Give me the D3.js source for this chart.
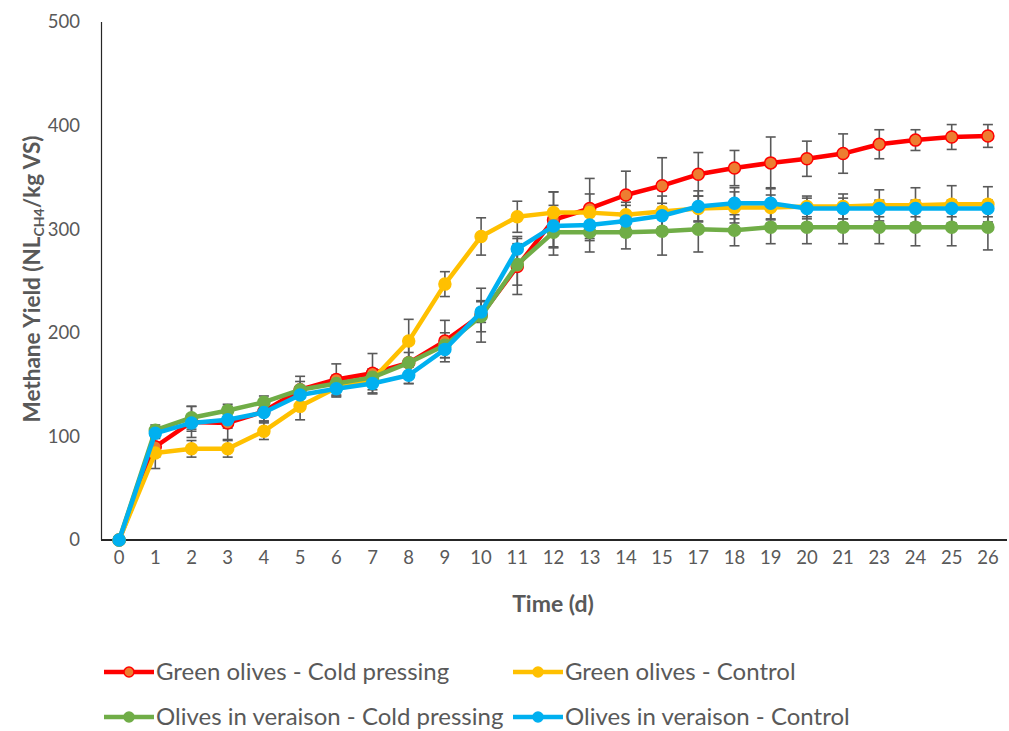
<!DOCTYPE html>
<html>
<head>
<meta charset="utf-8">
<script src="https://cdn.jsdelivr.net/npm/d3@7.9.0/dist/d3.min.js"></script>
<style>
  body { margin: 0; background: #fff; }
  text { font-family: Lato, "Liberation Sans", sans-serif; fill: #595959; }
</style>
</head>
<body>
<svg id="chart"></svg>
<script>
// sampling days (16 and 22 not measured)
const days = ["0","1","2","3","4","5","6","7","8","9","10","11","12","13","14","15","17","18","19","20","21","23","24","25","26"];

const greenCold = [0, 90, 114, 113, 124, 145, 155, 161, 171, 192, 217, 264, 309, 320, 333, 342, 353, 359, 364, 368, 373, 382, 386, 389, 390];
const greenColdErr = [0, 10, 15, 16, 10, 13, 15, 19, 20, 20, 26, 27, 27, 29, 23, 27, 21, 17, 25, 17, 19, 14, 10, 12, 11];

const greenCtrl = [0, 84, 88, 88, 105, 129, 147, 155, 192, 247, 293, 312, 316, 316, 314, 317, 320, 321, 321, 322, 322, 323, 323, 324, 324];
const greenCtrlErr = [0, 15, 8, 8, 8, 13, 8, 10, 21, 12, 18, 15, 20, 18, 12, 15, 12, 15, 12, 10, 12, 15, 17, 18, 17];

const verCold = [0, 106, 118, 125, 133, 145, 151, 157, 171, 188, 216, 266, 297, 297, 297, 298, 300, 299, 302, 302, 302, 302, 302, 302, 302];
const verColdErr = [0, 5, 11, 6, 6, 8, 8, 8, 10, 12, 15, 20, 22, 19, 16, 23, 22, 15, 16, 16, 16, 16, 18, 18, 22];

const verCtrl = [0, 103, 113, 116, 123, 140, 146, 151, 159, 184, 220, 281, 303, 304, 308, 313, 322, 325, 325, 320, 320, 320, 320, 320, 320];
const verCtrlErr = [0, 5, 8, 8, 8, 8, 8, 10, 8, 8, 10, 12, 20, 15, 15, 12, 15, 15, 15, 10, 10, 8, 8, 8, 8];

const yTicks = [0, 100, 200, 300, 400, 500];

const series = [
  { name: "Green olives - Cold pressing", values: greenCold, err: greenColdErr, line: "#FF0000", fill: "#ED7D31" },
  { name: "Green olives - Control", values: greenCtrl, err: greenCtrlErr, line: "#FFC000", fill: "#FFC000" },
  { name: "Olives in veraison - Cold pressing", values: verCold, err: verColdErr, line: "#70AD47", fill: "#70AD47" },
  { name: "Olives in veraison - Control", values: verCtrl, err: verCtrlErr, line: "#00B0F0", fill: "#00B0F0" }
];

const width = 1009, height = 731;
const svg = d3.select("#chart").attr("width", width).attr("height", height);

const x = d3.scaleBand().domain(days).range([101, 1006]).padding(0);
const y = d3.scaleLinear().domain([0, 500]).range([540, 22]);
const cx = d => x(d) + x.bandwidth() / 2;

// y tick labels
svg.append("g").selectAll("text")
  .data(yTicks).enter().append("text")
  .attr("x", 80).attr("y", d => y(d))
  .attr("dy", "0.35em")
  .attr("text-anchor", "end")
  .attr("font-size", 18.5)
  .text(d => d);

// x tick labels
svg.append("g").selectAll("text")
  .data(days).enter().append("text")
  .attr("x", d => cx(d)).attr("y", 558)
  .attr("dy", "0.35em")
  .attr("text-anchor", "middle")
  .attr("font-size", 18.5)
  .text(d => d);

// axes lines
svg.append("line")
  .attr("x1", 101.5).attr("x2", 101.5).attr("y1", y(500)).attr("y2", y(0))
  .attr("stroke", "#262626").attr("stroke-width", 1.2);
svg.append("line")
  .attr("x1", 101).attr("x2", 1007).attr("y1", y(0)).attr("y2", y(0))
  .attr("stroke", "#262626").attr("stroke-width", 2.2);

// axis titles
svg.append("text")
  .attr("x", 553).attr("y", 604)
  .attr("dy", "0.35em")
  .attr("text-anchor", "middle")
  .attr("font-size", 23).attr("font-weight", "bold")
  .text("Time (d)");

const yt = svg.append("text")
  .attr("transform", "translate(40,279) rotate(-90)")
  .attr("text-anchor", "middle")
  .attr("font-size", 22.5).attr("font-weight", "bold");
yt.append("tspan").text("Methane Yield (NL");
yt.append("tspan").attr("font-size", 14).attr("dy", 4).text("CH4");
yt.append("tspan").attr("dy", -4).text("/kg VS)");

// error bars
const capW = 5;
series.forEach(s => {
  const g = svg.append("g").attr("stroke", "#595959").attr("stroke-width", 1.6);
  s.values.forEach((v, i) => {
    const e = s.err[i];
    if (!e) return;
    const px = cx(days[i]);
    g.append("line").attr("x1", px).attr("x2", px).attr("y1", y(v - e)).attr("y2", y(v + e));
    g.append("line").attr("x1", px - capW).attr("x2", px + capW).attr("y1", y(v - e)).attr("y2", y(v - e));
    g.append("line").attr("x1", px - capW).attr("x2", px + capW).attr("y1", y(v + e)).attr("y2", y(v + e));
  });
});

// lines and markers
const lineGen = d3.line().x((d, i) => cx(days[i])).y(d => y(d));
series.forEach(s => {
  svg.append("path")
    .datum(s.values)
    .attr("d", lineGen)
    .attr("fill", "none")
    .attr("stroke", s.line)
    .attr("stroke-width", 4.5)
    .attr("stroke-linejoin", "round");
  svg.append("g").selectAll("circle")
    .data(s.values).enter().append("circle")
    .attr("cx", (d, i) => cx(days[i]))
    .attr("cy", d => y(d))
    .attr("r", 6)
    .attr("fill", s.fill)
    .attr("stroke", s.line)
    .attr("stroke-width", 1.5);
});

// legend
const legendPos = [[104, 672], [513, 672], [104, 717], [513, 717]];
series.forEach((s, i) => {
  const [lx, ly] = legendPos[i];
  const g = svg.append("g").attr("transform", `translate(${lx},${ly})`);
  g.append("line").attr("x1", 0).attr("x2", 50).attr("y1", 0).attr("y2", 0)
    .attr("stroke", s.line).attr("stroke-width", 4.5);
  g.append("circle").attr("cx", 25).attr("cy", 0).attr("r", 5)
    .attr("fill", s.fill).attr("stroke", s.line).attr("stroke-width", 1.5);
  g.append("text").attr("x", 52).attr("y", 0).attr("dy", "0.35em")
    .attr("font-size", 24).text(s.name);
});
</script>
</body>
</html>
